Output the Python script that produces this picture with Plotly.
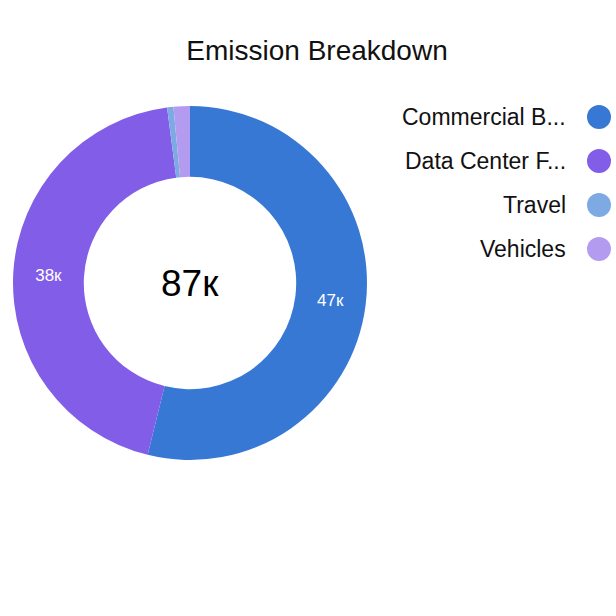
import plotly.graph_objects as go

# ---- data ----
categories = ["Commercial Buildings", "Data Center Facilities", "Travel", "Vehicles"]
legend_labels = ["Commercial B...", "Data Center F...", "Travel", "Vehicles"]
values = [46.9, 38.4, 0.5, 1.3]          # thousands
slice_text = ["47к", "38к", "", ""]
total_label = "87к"
colors = ["#3778d5", "#825ee8", "#7eaae4", "#b39cf0"]
title_text = "Emission Breakdown"

W = H = 616
FONT = "Liberation Sans, Arial, Helvetica, sans-serif"

# pie geometry (pixels)
cx, cy, R = 190, 283, 177
pie_dom_x = [(cx - R) / W, (cx + R) / W]
pie_dom_y = [1 - (cy + R) / H, 1 - (cy - R) / H]

fig = go.Figure()
fig.add_trace(go.Pie(
    labels=categories,
    values=values,
    text=slice_text,
    textinfo="text",
    textposition="inside",
    insidetextorientation="horizontal",
    textfont=dict(family=FONT, size=17, color="white"),
    marker=dict(colors=colors, line=dict(width=0)),
    hole=0.6,
    sort=False,
    direction="clockwise",
    rotation=0,
    domain=dict(x=pie_dom_x, y=pie_dom_y),
    showlegend=False,
))

# custom legend (markers right of text) via a scatter on its own axes
row_h = 44
first_row = 117
n = len(legend_labels)
leg_top = first_row - row_h / 2
leg_bot = leg_top + row_h * n
fig.add_trace(go.Scatter(
    x=[0] * n,
    y=legend_labels,
    mode="markers",
    marker=dict(size=24, color=colors, line=dict(width=0)),
    xaxis="x", yaxis="y",
    showlegend=False,
    hoverinfo="skip",
))

for lab in legend_labels:
    fig.add_annotation(
        x=0, y=lab, xref="x", yref="y",
        text=lab, showarrow=False,
        xanchor="right", yanchor="middle",
        xshift=-31,
        font=dict(family=FONT, size=23, color="#111111"),
    )

# center total
fig.add_annotation(
    x=(cx) / W, y=1 - cy / H, xref="paper", yref="paper",
    text=total_label, showarrow=False,
    xanchor="center", yanchor="middle",
    font=dict(family=FONT, size=37, color="#000000"),
)

fig.update_layout(
    width=W, height=H,
    margin=dict(l=0, r=0, t=0, b=0),
    paper_bgcolor="white",
    plot_bgcolor="rgba(0,0,0,0)",
    showlegend=False,
    title=dict(
        text=title_text,
        x=317 / W, xref="paper", xanchor="center",
        y=1 - 50 / H, yref="container", yanchor="middle",
        font=dict(family=FONT, size=28, color="#111111"),
    ),
    xaxis=dict(domain=[587 / W, 611 / W], range=[-1, 1], visible=False, fixedrange=True),
    yaxis=dict(domain=[1 - leg_bot / H, 1 - leg_top / H], type="category",
               categoryorder="array", categoryarray=legend_labels,
               range=[n - 0.5, -0.5], visible=False, fixedrange=True),
)

fig.write_html(
    "out.html",
    config={"displayModeBar": False},
    post_script="document.body.style.margin='0';document.body.style.overflow='hidden';",
)
